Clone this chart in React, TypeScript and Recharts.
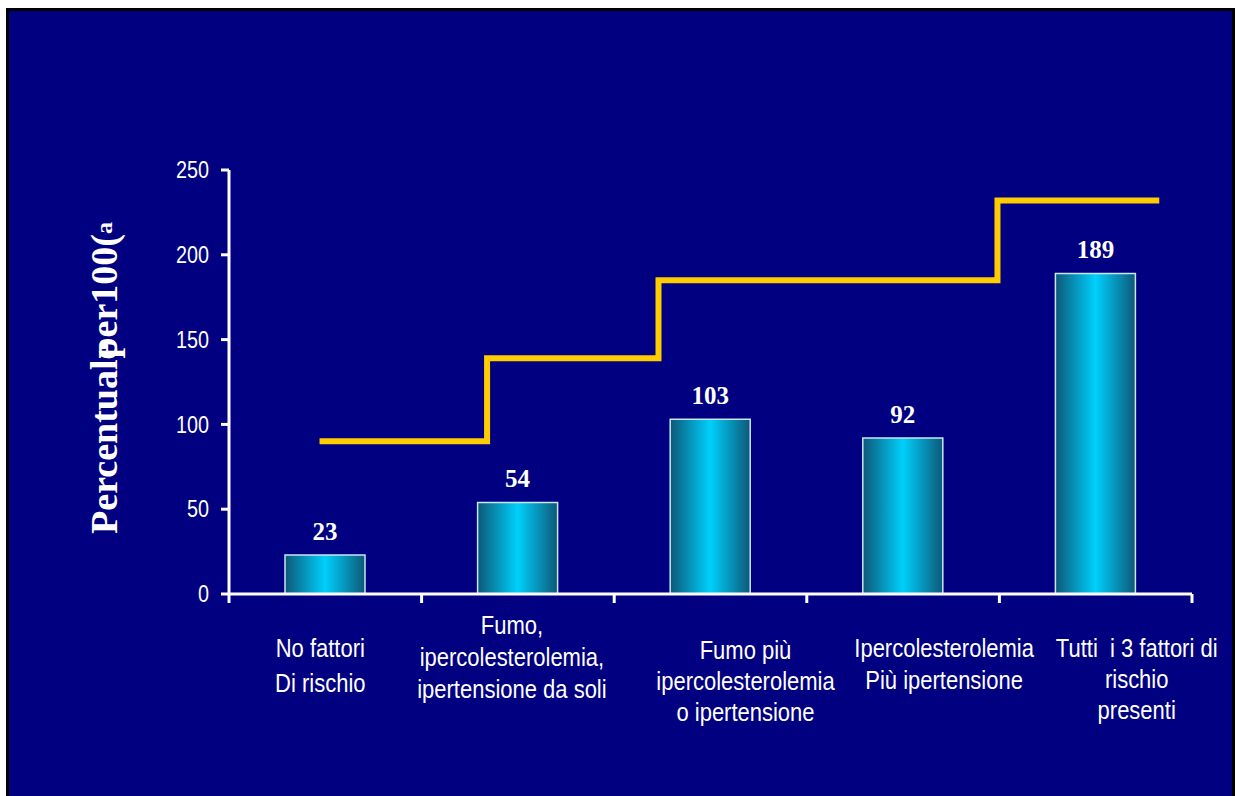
import React from 'react';
import { ComposedChart, Bar, Line, XAxis, YAxis, LabelList } from 'recharts';

// categories (multi-line labels as in the slide)
const categories: string[][] = [
  ['No fattori', 'Di rischio'],
  ['Fumo,', 'ipercolesterolemia,', 'ipertensione da soli'],
  ['Fumo più', 'ipercolesterolemia', 'o ipertensione'],
  ['Ipercolesterolemia', 'Più ipertensione'],
  ['Tutti  i 3 fattori di', 'rischio', 'presenti'],
];
const rates = [23, 54, 103, 92, 189];
const yTicks = [0, 50, 100, 150, 200, 250];

// yellow step line, x in category units (0..5)
const stepX = [0.47, 1.34, 2.23, 3.99, 4.83];
const stepY = [90, 139, 185, 232, 232];

const barData = rates.map((v, i) => ({ pos: i + 0.5, value: v }));
const stepData = stepX.map((x, i) => ({ pos: x, step: stepY[i] }));
const xTicks = Array.from({ length: categories.length * 2 + 1 }, (_, i) => i / 2);

// Arial Narrow look: Liberation Sans squeezed horizontally
const SANS = "'Liberation Sans', Arial, sans-serif";
const SERIF = "'Liberation Serif', 'Times New Roman', serif";

// label nudges, as laid out on the original slide
const labelDx = [-5, -6, 35, 41, 41];
const labelDy = [63, 40, 65, 63, 63];
const labelGap = [35, 32, 31, 32, 31];

const XTick = (props: any) => {
  const { x, y, payload } = props;
  const v = payload.value as number;
  if (Number.isInteger(v)) {
    return <line x1={x} x2={x} y1={y} y2={y + 9} stroke="#fff" strokeWidth={3} />;
  }
  const i = Math.floor(v);
  const lines = categories[i] || [];
  return (
    <g transform={`translate(${x + labelDx[i]},${y + labelDy[i]}) scale(0.88,1)`}>
      <text textAnchor="middle" fill="#fff" fontSize={25} fontFamily={SANS} style={{ whiteSpace: 'pre' }}>
        {lines.map((l, k) => (
          <tspan key={k} x={0} dy={k === 0 ? 0 : labelGap[i]}>
            {l}
          </tspan>
        ))}
      </text>
    </g>
  );
};

const YTick = (props: any) => {
  const { x, y, payload } = props;
  return (
    <g transform={`translate(${x},${y}) scale(0.86,1)`}>
      <text textAnchor="end" dy="0.36em" fill="#fff" fontSize={23} fontFamily={SANS}>
        {payload.value}
      </text>
    </g>
  );
};

const YTitle = () => (
  <text
    transform="translate(117,378) rotate(-90)"
    textAnchor="middle"
    fill="#fff"
    fontSize={38}
    fontWeight="bold"
    fontFamily={SERIF}
  >
    Percentual
    <tspan>e</tspan>
    <tspan dx={-16}>per100(</tspan>
    <tspan fontSize={24} dy={-5}>a</tspan>
  </text>
);

export default function App() {
  return (
    <div style={{ position: 'absolute', left: 0, top: 0, width: 1235, height: 796, background: '#fff' }}>
      <div style={{ position: 'absolute', left: 6, top: 8, width: 1229, height: 788, background: '#000' }} />
      <div style={{ position: 'absolute', left: 9, top: 11, width: 1223, height: 785, background: '#000080' }} />
      <div style={{ position: 'absolute', left: 0, top: 0 }}>
        <ComposedChart
          width={1235}
          height={796}
          data={barData}
          margin={{ top: 170, right: 43, left: 149, bottom: 102 }}
        >
          <defs>
            <linearGradient id="barFill" x1="0" y1="0" x2="1" y2="0">
              <stop offset="0%" stopColor="#0d5878" />
              <stop offset="50%" stopColor="#00d0fc" />
              <stop offset="100%" stopColor="#0d5878" />
            </linearGradient>
          </defs>
          <XAxis
            dataKey="pos"
            type="number"
            domain={[0, 5]}
            ticks={xTicks}
            interval={0}
            height={100}
            axisLine={{ stroke: '#fff', strokeWidth: 3 }}
            tickLine={false}
            tickSize={0}
            tickMargin={0}
            tick={<XTick />}
            allowDataOverflow
          />
          <XAxis xAxisId="step" dataKey="pos" type="number" domain={[0, 5]} hide allowDataOverflow />
          <YAxis
            width={80}
            domain={[0, 250]}
            ticks={yTicks}
            interval={0}
            axisLine={{ stroke: '#fff', strokeWidth: 3 }}
            tickLine={{ stroke: '#fff', strokeWidth: 3 }}
            tickSize={8}
            tickMargin={12}
            tick={<YTick />}
            label={{ content: () => <YTitle /> }}
          />
          <Bar
            dataKey="value"
            barSize={80}
            fill="url(#barFill)"
            stroke="#c6e8f2"
            strokeWidth={1.5}
            isAnimationActive={false}
          >
            <LabelList
              dataKey="value"
              position="top"
              offset={15}
              fill="#fff"
              fontSize={25}
              fontWeight="bold"
              fontFamily={SERIF}
            />
          </Bar>
          <Line
            xAxisId="step"
            data={stepData}
            dataKey="step"
            type="stepAfter"
            stroke="#FFCC00"
            strokeWidth={6}
            dot={false}
            activeDot={false}
            isAnimationActive={false}
          />
        </ComposedChart>
      </div>
    </div>
  );
}
